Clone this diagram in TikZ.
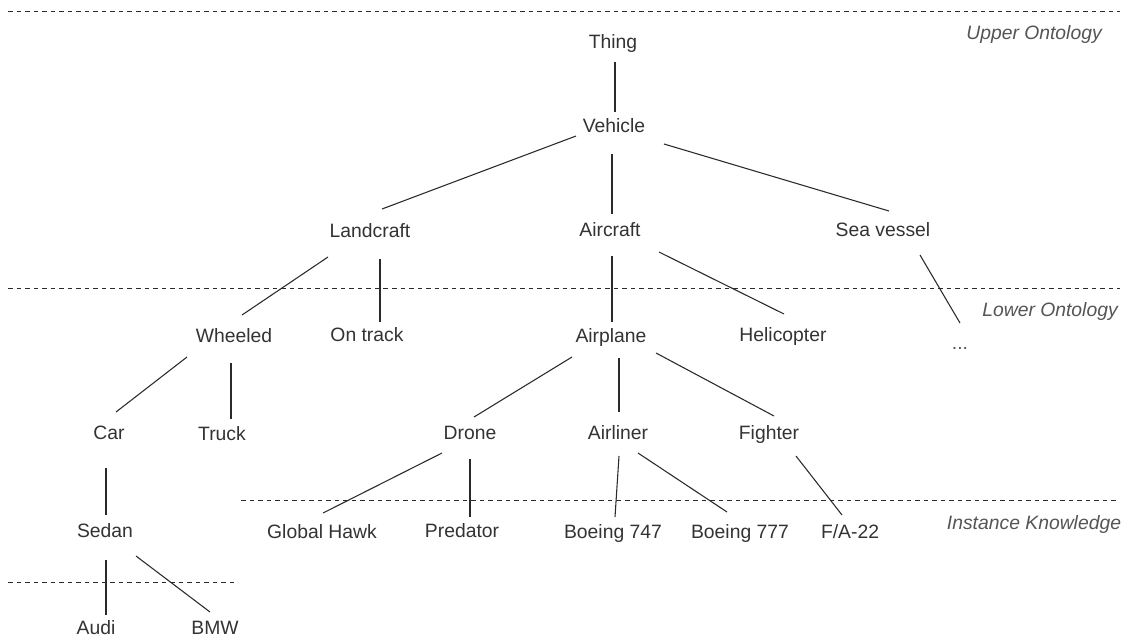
\documentclass[tikz,border=0pt]{standalone}
\usepackage{fontspec}
\setmainfont{Liberation Sans}
\usetikzlibrary{calc}
\definecolor{txt}{HTML}{333333}
\definecolor{lbl}{HTML}{555555}
\definecolor{ln}{HTML}{2A2A2A}
\tikzset{
  concept/.style={inner sep=0pt, text=txt, font=\fontsize{14.5}{17}\selectfont, text height=10.4pt, text depth=0pt},
  layerlabel/.style={inner sep=0pt, text=lbl, font=\fontsize{14.5}{17}\selectfont\itshape, text height=10.4pt, text depth=0pt},
  conn/.style={draw=ln, line width=0.8pt},
  layerline/.style={draw=ln, line width=0.7pt, dash pattern=on 3.4pt off 3pt},
}
\newcommand\lnk[6]{\draw[conn] ($(#1)+(#2,#3)$) -- ($(#4)+(#5,#6)$);}
\begin{document}
\begin{tikzpicture}[x=0.75pt,y=-0.75pt]
\useasboundingbox (0,0) rectangle (1130,640);
\fill[white] (0,0) rectangle (1130,640);
% layer boundaries
\coordinate (l1a) at (8,11);   \coordinate (l1b) at (1120,11);
\coordinate (l2a) at (8,288);  \coordinate (l2b) at (1120,288);
\coordinate (l3a) at (241,500); \coordinate (l3b) at (1118,500);
\coordinate (l4a) at (8,582);  \coordinate (l4b) at (238,582);
\draw[layerline] (l1a) -- (l1b);
\draw[layerline] (l2a) -- (l2b);
\draw[layerline] (l3a) -- (l3b);
\draw[layerline] (l4a) -- (l4b);
% layer labels
\node[layerlabel] (upper) at (1034,33) {Upper Ontology};
\node[layerlabel] (lower) at (1050,310) {Lower Ontology};
\node[layerlabel] (inst) at (1034,523) {Instance Knowledge};
% concepts
\node[concept] (thing) at (613,42) {Thing};
\node[concept] (vehicle) at (614,126) {Vehicle};
\node[concept] (land) at (370,231) {Landcraft};
\node[concept] (air) at (610,230) {Aircraft};
\node[concept] (sea) at (883,230) {Sea vessel};
\node[concept] (wheeled) at (234,336) {Wheeled};
\node[concept] (ontrack) at (367,335) {On track};
\node[concept] (airplane) at (611,336) {Airplane};
\node[concept] (heli) at (783,335) {Helicopter};
\node[inner sep=0pt, text=lbl, font=\fontsize{14.5}{17}\selectfont, anchor=base] (dots) at (960,349) {...};
\node[concept] (car) at (109,433) {Car};
\node[concept] (truck) at (222,434) {Truck};
\node[concept] (drone) at (470,433) {Drone};
\node[concept] (airliner) at (618,433) {Airliner};
\node[concept] (fighter) at (769,433) {Fighter};
\node[concept] (ghawk) at (322,532) {Global Hawk};
\node[concept] (predator) at (462,531) {Predator};
\node[concept] (b747) at (613,532) {Boeing 747};
\node[concept] (b777) at (740,532) {Boeing 777};
\node[concept] (fa22) at (850,532) {F/A-22};
\node[concept] (sedan) at (105,531) {Sedan};
\node[concept] (audi) at (96,628) {Audi};
\node[concept] (bmw) at (215,628) {BMW};
% connectors
\lnk{thing}{2}{20}{vehicle}{1}{-14}
\lnk{vehicle}{-38}{10}{land}{12}{-22}
\lnk{vehicle}{-2}{28}{air}{2}{-16}
\lnk{vehicle}{50}{18}{sea}{6}{-19}
\lnk{land}{-42}{26}{wheeled}{8}{-21}
\lnk{land}{10}{28}{ontrack}{13}{-13}
\lnk{air}{2}{26}{airplane}{1}{-14}
\lnk{air}{49}{22}{heli}{1}{-21}
\lnk{sea}{37}{25}{dots.base}{0}{-26}
\lnk{wheeled}{-47}{21}{car}{7}{-21}
\lnk{wheeled}{-3}{27}{truck}{9}{-15}
\lnk{airplane}{-39}{21}{drone}{4}{-16}
\lnk{airplane}{8}{22}{airliner}{1}{-21}
\lnk{airplane}{45}{17}{fighter}{5}{-17}
\lnk{car}{-3}{35}{sedan}{1}{-16}
\lnk{drone}{-28}{20}{ghawk}{1}{-19}
\lnk{drone}{0}{26}{predator}{8}{-14}
\lnk{airliner}{1}{23}{b747}{2}{-15}
\lnk{airliner}{20}{20}{b777}{-13}{-20}
\lnk{fighter}{27}{23}{fa22}{-8}{-17}
\lnk{sedan}{1}{29}{audi}{10}{-13}
\lnk{sedan}{31}{25}{bmw}{-5}{-16}
\end{tikzpicture}
\end{document}
